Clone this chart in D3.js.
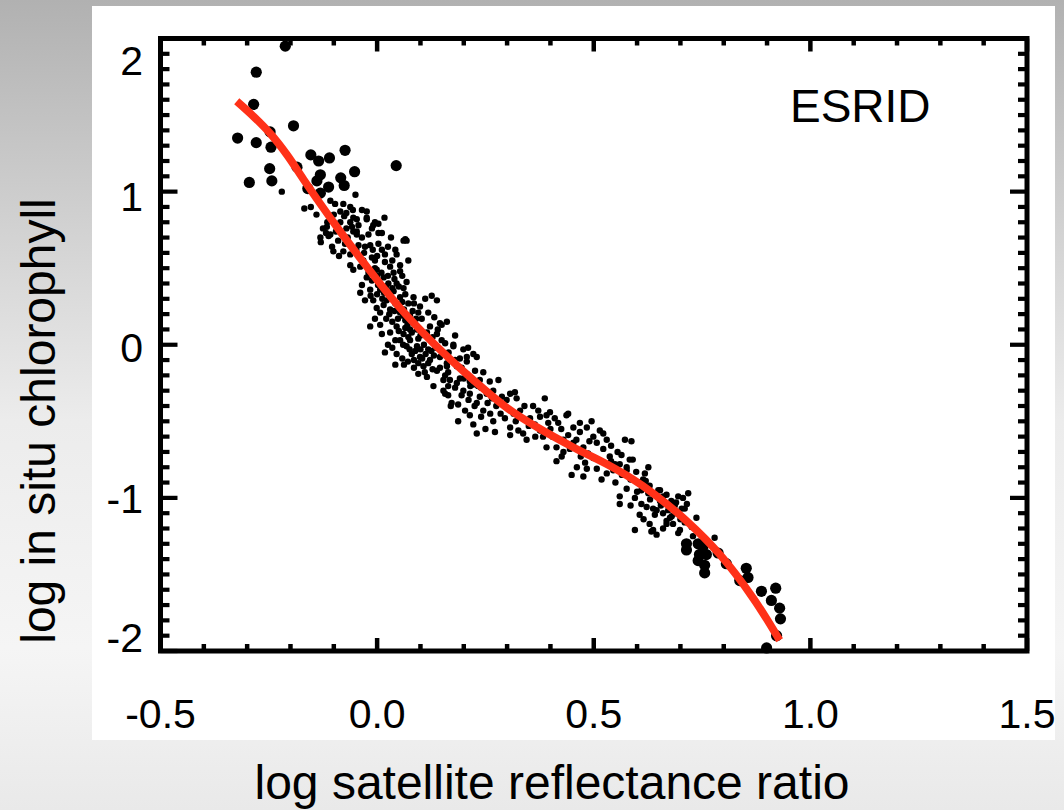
<!DOCTYPE html>
<html>
<head>
<meta charset="utf-8">
<script src="https://cdn.jsdelivr.net/npm/d3@7/dist/d3.min.js"></script>
<style>
html,body{margin:0;padding:0;background:#fff;}
svg{display:block;}
text{font-family:"Liberation Sans",Arial,Helvetica,sans-serif;fill:#000;}
</style>
</head>
<body>
<svg id="chart" width="1064" height="810"></svg>
<script>
// ---- data ----
const xTickValues = [-0.5, 0.0, 0.5, 1.0, 1.5];
const xTickLabels = ["-0.5", "0.0", "0.5", "1.0", "1.5"];
const yTickValues = [-2, -1, 0, 1, 2];
const yTickLabels = ["-2", "-1", "0", "1", "2"];
const xTitle = "log satellite reflectance ratio";
const yTitle = "log in situ chlorophyll";
const panelLabel = "ESRID";

// large symbols (ends of the range)
const largeDots = [
  [-0.212,1.95],[-0.279,1.78],[-0.285,1.57],[-0.193,1.43],[-0.322,1.35],[-0.279,1.32],
  [-0.247,1.39],[-0.245,1.29],[-0.248,1.15],[-0.295,1.06],[-0.243,1.07],[-0.185,1.16],
  [-0.153,1.24],[-0.135,1.20],[-0.110,1.22],[-0.074,1.27],[0.044,1.17],[-0.131,1.11],
  [-0.139,1.07],[-0.160,1.02],[-0.112,1.03],[-0.084,1.09],[-0.076,1.04],[-0.052,1.13],
  [-0.131,0.99],
  [0.714,-1.30],[0.714,-1.34],[0.741,-1.30],[0.752,-1.32],[0.744,-1.37],[0.760,-1.37],
  [0.741,-1.41],[0.756,-1.44],[0.756,-1.49],[0.787,-1.36],[0.806,-1.43],[0.852,-1.46],
  [0.856,-1.52],[0.837,-1.54],[0.887,-1.61],[0.920,-1.59],[0.910,-1.67],[0.929,-1.72],
  [0.931,-1.79],[0.922,-1.90],[0.899,-1.98]
];

// small symbols (main cloud)
const smallDots = [
  [-0.220,1.00],[-0.168,0.89],[-0.153,0.90],[-0.108,0.94],[-0.097,0.92],[-0.078,0.92],
  [-0.056,0.88],[-0.024,0.87],[0.017,0.83],[-0.071,0.86],[-0.076,0.84],[-0.062,0.80],
  [-0.047,0.82],[-0.115,0.80],[-0.118,0.73],[-0.024,0.82],[-0.009,0.78],[0.003,0.79],
  [0.011,0.73],[-0.047,0.74],[-0.058,0.77],[-0.071,0.76],[-0.131,0.70],[-0.108,0.72],
  [0.065,0.69],[-0.050,0.98],[-0.116,0.77],[-0.130,0.67],[-0.112,0.71],[-0.104,0.64],
  [-0.101,0.61],[-0.055,0.83],[-0.043,0.78],[-0.024,0.83],[-0.012,0.76],[0.003,0.73],
  [-0.055,0.74],[-0.047,0.72],[-0.074,0.66],[-0.078,0.61],[-0.062,0.59],[-0.043,0.65],
  [-0.028,0.64],[-0.016,0.65],[0.003,0.66],[0.011,0.62],[0.061,0.68],[0.068,0.68],
  [0.042,0.62],[0.045,0.59],[0.072,0.55],[-0.062,0.52],[-0.055,0.49],[-0.039,0.51],
  [-0.024,0.44],[-0.032,0.55],[-0.005,0.55],[0.018,0.54],[0.030,0.51],[0.053,0.52],
  [0.038,0.47],[0.053,0.48],[-0.001,0.49],[0.015,0.44],[0.026,0.40],[0.045,0.40],
  [0.061,0.37],[0.068,0.41],[0.007,0.36],[-0.009,0.29],[-0.001,0.24],[0.007,0.21],
  [0.022,0.29],[0.030,0.23],[0.042,0.27],[0.053,0.31],[0.084,0.31],[0.111,0.30],
  [0.126,0.32],[0.138,0.29],[0.099,0.25],[0.118,0.21],[0.053,0.21],[0.065,0.16],
  [0.045,0.12],[0.061,0.07],[0.084,0.14],[0.092,0.10],[0.103,0.17],[0.122,0.12],
  [0.145,0.14],[0.161,0.15],[0.138,0.07],[0.149,0.03],[0.180,0.06],[-0.016,0.12],
  [0.011,0.07],[0.018,-0.05],[0.042,-0.13],[0.053,0.03],[0.068,-0.01],[0.076,0.03],
  [0.092,-0.01],[0.080,-0.06],[0.099,-0.08],[0.107,-0.14],[0.095,-0.19],[0.115,-0.21],
  [0.138,-0.17],[0.122,-0.10],[0.145,-0.08],[0.161,-0.12],[0.176,-0.01],[0.199,-0.03],
  [0.207,-0.08],[0.222,-0.06],[0.184,-0.14],[0.207,-0.19],[0.226,-0.17],[0.153,-0.23],
  [0.164,-0.27],[0.130,-0.27],[0.184,-0.25],[0.199,-0.30],[0.214,-0.32],[0.157,-0.32],
  [-0.012,0.42],[0.002,0.39],[0.016,0.34],[0.030,0.32],[-0.016,0.36],[0.035,0.37],
  [0.048,0.26],[0.062,0.23],[0.076,0.19],[0.021,0.17],[0.035,0.15],[0.048,0.17],
  [0.076,0.10],[0.095,0.04],[0.108,0.00],[0.118,-0.03],[0.042,0.03],[0.025,0.00],
  [0.058,-0.09],[0.071,-0.11],[0.085,-0.15],[0.104,-0.09],[-0.035,0.39],[-0.028,0.29],
  [-0.039,0.34],[-0.005,0.17],[0.007,0.13],[0.131,-0.07],[0.145,-0.15],[0.164,-0.18],
  [0.191,-0.22],[0.214,-0.24],[0.233,-0.27],[-0.012,0.57],[0.018,0.59],[0.035,0.55],
  [0.149,0.13],[0.157,0.01],[0.176,0.00],[0.230,-0.08],[0.191,-0.09],[0.207,-0.11],
  [0.161,-0.14],[0.157,-0.20],[0.168,-0.23],[0.153,-0.30],[0.164,-0.33],[0.172,-0.38],
  [0.187,-0.39],[0.203,-0.43],[0.214,-0.46],[0.187,-0.50],[0.222,-0.52],[0.211,-0.36],
  [0.230,-0.38],[0.237,-0.34],[0.245,-0.43],[0.253,-0.32],[0.268,-0.30],[0.280,-0.23],
  [0.245,-0.18],[0.237,-0.23],[0.222,-0.26],[0.261,-0.45],[0.268,-0.50],[0.272,-0.57],
  [0.288,-0.34],[0.299,-0.36],[0.307,-0.32],[0.318,-0.31],[0.322,-0.35],[0.330,-0.43],
  [0.307,-0.54],[0.307,-0.59],[0.326,-0.56],[0.337,-0.58],[0.353,-0.48],[0.372,-0.43],
  [0.376,-0.47],[0.391,-0.46],[0.387,-0.35],[0.364,-0.52],[0.376,-0.56],[0.395,-0.51],
  [0.418,-0.51],[0.437,-0.46],[0.383,-0.60],[0.391,-0.67],[0.414,-0.67],[0.426,-0.73],
  [0.414,-0.76],[0.441,-0.59],[0.453,-0.54],[0.468,-0.51],[0.468,-0.57],[0.484,-0.54],
  [0.453,-0.64],[0.476,-0.67],[0.495,-0.50],[0.499,-0.60],[0.514,-0.56],[0.522,-0.58],
  [0.507,-0.64],[0.522,-0.68],[0.487,-0.71],[0.499,-0.74],[0.537,-0.73],[0.549,-0.78],
  [0.564,-0.72],[0.572,-0.62],[0.587,-0.63],[0.560,-0.78],[0.576,-0.80],[0.583,-0.75],
  [0.449,-0.85],[0.476,-0.86],[0.507,-0.81],[0.530,-0.84],[0.545,-0.82],[0.484,-0.81],
  [0.461,-0.80],[0.399,-0.44],[0.441,-0.45],[0.518,-0.88],[0.595,-1.21],
  [0.576,-0.82],[0.590,-0.75],[0.626,-0.80],[0.618,-0.84],[0.614,-0.88],[0.576,-0.94],
  [0.560,-0.99],[0.629,-0.92],[0.610,-0.95],[0.626,-0.97],[0.595,-1.00],[0.610,-1.04],
  [0.622,-1.06],[0.637,-1.07],[0.649,-0.95],[0.660,-0.99],[0.668,-0.98],[0.653,-1.02],
  [0.645,-1.08],[0.606,-1.11],[0.641,-1.11],[0.660,-1.10],[0.679,-1.02],[0.695,-0.99],
  [0.706,-1.00],[0.718,-0.97],[0.687,-1.05],[0.703,-1.07],[0.676,-1.13],[0.668,-1.17],
  [0.683,-1.17],[0.699,-1.21],[0.695,-1.23],[0.629,-1.17],[0.633,-1.22],[0.645,-1.24],
  [0.710,-1.16],[0.737,-1.13],[0.729,-1.25],[0.779,-1.26],[0.560,-1.04],[0.653,-0.95],
  [0.726,-1.19],[0.645,-0.99],[0.668,-1.15],[0.637,-1.21],[0.710,-1.07],
  // dense core and band, second reading
  [-0.005,0.50],[0.010,0.47],[0.025,0.45],[0.040,0.43],[0.058,0.45],[0.000,0.33],
  [0.012,0.30],[0.038,0.35],[0.050,0.38],[0.065,0.33],[0.072,0.27],[0.058,0.28],
  [0.015,0.26],[0.028,0.20],[0.040,0.22],[0.060,0.19],[0.070,0.13],[0.082,0.22],
  [0.090,0.17],[-0.020,0.47],[-0.015,0.32],[0.000,0.45],[0.020,0.38],[0.085,0.27],
  [0.095,0.21],[0.050,0.09],[0.065,0.11],[0.080,0.08],[0.100,0.06],[0.115,0.08],
  [0.128,0.05],[0.060,0.00],[0.075,-0.03],[0.088,-0.04],[0.100,-0.03],[0.112,-0.06],
  [0.125,-0.04],[0.085,-0.10],[0.095,-0.12],[0.118,-0.12],[0.128,-0.16],[0.110,-0.18],
  [0.135,-0.02],[0.035,-0.02],[0.030,0.08],[0.045,-0.06],[0.062,-0.13],[0.072,0.05],
  [0.140,0.10],[0.132,0.18],[-0.125,0.76],[-0.095,0.74],[-0.090,0.68],[-0.085,0.80],
  [-0.068,0.70],[-0.035,0.70],[-0.020,0.72],[-0.030,0.60],[-0.010,0.62],[-0.048,0.62],
  [-0.088,0.58],[0.000,0.58],[0.025,0.64],[0.032,0.70],[-0.005,0.80],[-0.035,0.88],
  [-0.062,0.90],[-0.085,0.87],[-0.140,0.85],[-0.100,0.85],[0.165,-0.05],[0.180,-0.10],
  [0.195,-0.15],[0.210,-0.02],[0.170,-0.40],[0.195,-0.33],[0.215,-0.27],[0.240,-0.28],
  [0.255,-0.38],[0.260,-0.24],[0.275,-0.40],[0.285,-0.45],[0.240,-0.47],[0.230,-0.58],
  [0.250,-0.55],[0.295,-0.48],[0.180,-0.28],[0.200,-0.22],[0.225,-0.40],[0.265,-0.35],
  [0.340,-0.40],[0.350,-0.53],[0.360,-0.40],[0.345,-0.62],[0.365,-0.60],[0.400,-0.55],
  [0.405,-0.60],[0.425,-0.55],[0.430,-0.62],[0.445,-0.68],[0.460,-0.62],[0.470,-0.73],
  [0.490,-0.63],[0.410,-0.48],[0.320,-0.50],[0.315,-0.45],[0.430,-0.70],[0.480,-0.77],
  [0.530,-0.62],[0.540,-0.66],[0.555,-0.70],[0.540,-0.76],[0.565,-0.85],[0.585,-0.88],
  [0.598,-0.83],[0.605,-0.90],[0.620,-0.89],[0.600,-0.96],[0.630,-1.01],[0.655,-1.05],
  [0.672,-1.08],[0.690,-1.10],[0.700,-1.14],[0.680,-1.12],[0.690,-1.03],[0.715,-1.04],
  [0.615,-1.14],[0.660,-1.20],[0.550,-0.90],[0.585,-1.05]
];

// fitted curve
const fitCurve = [
  [-0.324,1.59],[-0.285,1.49],[-0.247,1.38],[-0.208,1.24],[-0.170,1.08],[-0.131,0.92],
  [-0.093,0.77],[-0.024,0.51],[0.053,0.24],[0.130,0.01],[0.222,-0.23],[0.299,-0.41],
  [0.376,-0.55],[0.453,-0.67],[0.530,-0.78],[0.591,-0.88],[0.637,-0.97],[0.714,-1.15],
  [0.791,-1.37],[0.868,-1.655],[0.929,-1.93]
];

// ---- drawing ----
const W = 1064, H = 810;
const svg = d3.select("#chart");
const defs = svg.append("defs");
const grad = defs.append("linearGradient").attr("id","bg").attr("x1",0).attr("y1",0).attr("x2",0).attr("y2",1);
[[0,"#b1b1b1"],[0.18,"#c6c6c6"],[0.32,"#d6d6d6"],[0.52,"#ececec"],[0.8,"#f5f5f5"],[1,"#e9e9e9"]]
  .forEach(s => grad.append("stop").attr("offset",s[0]).attr("stop-color",s[1]));
svg.append("rect").attr("width",W).attr("height",H).attr("fill","url(#bg)");
svg.append("rect").attr("x",92).attr("y",6).attr("width",963).attr("height",734).attr("fill","#fff");

const x = d3.scaleLinear().domain([-0.5,1.5]).range([160.5,1027]);
const y = d3.scaleLinear().domain([-2,2]).range([651,38.5]);

const plot = svg.append("g");

// points
plot.append("g").selectAll("circle").data(smallDots).join("circle")
  .attr("cx",d=>x(d[0])).attr("cy",d=>y(d[1])).attr("r",3.2).attr("fill","#000");
plot.append("g").selectAll("circle").data(largeDots).join("circle")
  .attr("cx",d=>x(d[0])).attr("cy",d=>y(d[1])).attr("r",5.6).attr("fill","#000");

// fitted curve
plot.append("path").datum(fitCurve)
  .attr("d", d3.line().x(d=>x(d[0])).y(d=>y(d[1])).curve(d3.curveCatmullRom.alpha(0.5)))
  .attr("fill","none").attr("stroke","#ff3118").attr("stroke-width",7.8);

// frame
const x0 = x(-0.5), x1 = x(1.5), y0 = y(-2), y1 = y(2);
const axisG = svg.append("g").attr("stroke","#000");
axisG.append("rect").attr("x",x0).attr("y",y1).attr("width",x1-x0).attr("height",y0-y1)
  .attr("fill","none").attr("stroke-width",5);

// x ticks (top and bottom)
x.ticks(20).forEach(v => {
  const major = xTickValues.some(t => Math.abs(t-v) < 1e-6);
  const len = major ? 13 : 7;
  axisG.append("line").attr("x1",x(v)).attr("x2",x(v)).attr("y1",y0).attr("y2",y0-len).attr("stroke-width",4.5);
  axisG.append("line").attr("x1",x(v)).attr("x2",x(v)).attr("y1",y1).attr("y2",y1+len).attr("stroke-width",4.5);
});
// y ticks (left and right)
y.ticks(40).forEach(v => {
  const major = yTickValues.some(t => Math.abs(t-v) < 1e-6);
  const len = major ? 17 : 9;
  axisG.append("line").attr("y1",y(v)).attr("y2",y(v)).attr("x1",x0).attr("x2",x0+len).attr("stroke-width",4.2);
  axisG.append("line").attr("y1",y(v)).attr("y2",y(v)).attr("x1",x1).attr("x2",x1-len).attr("stroke-width",4.2);
});

// tick labels
svg.append("g").selectAll("text").data(xTickValues).join("text")
  .attr("x",d=>x(d)).attr("y",728).attr("text-anchor","middle")
  .attr("font-size",41).text((d,i)=>xTickLabels[i]);
const yLabelShift = [1, 15, 17, 19, 36];
svg.append("g").selectAll("text").data(yTickValues).join("text")
  .attr("x",143).attr("y",(d,i)=>y(d)+yLabelShift[i]).attr("text-anchor","end")
  .attr("font-size",41).text((d,i)=>yTickLabels[i]);

// titles
svg.append("text").attr("x",552).attr("y",799).attr("text-anchor","middle")
  .attr("font-size",48).text(xTitle);
svg.append("text").attr("transform","translate(55,421) rotate(-90)").attr("text-anchor","middle")
  .attr("font-size",48).text(yTitle);

// panel label
svg.append("text").attr("x",790).attr("y",121.5).attr("font-size",46).text(panelLabel);
</script>
</body>
</html>
